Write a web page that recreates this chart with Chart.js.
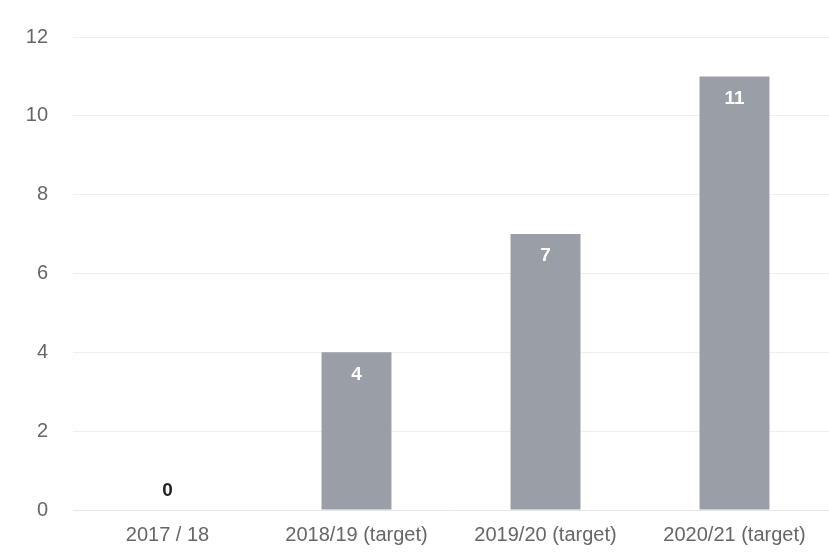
<!DOCTYPE html>
<html>
<head>
<meta charset="utf-8">
<script src="https://cdn.jsdelivr.net/npm/chart.js@4/dist/chart.umd.min.js"></script>
<style>
  html, body { margin: 0; padding: 0; background: #fff; }
  #wrap { width: 829px; height: 556px; }
</style>
</head>
<body>
<div id="wrap"><canvas id="barChart" width="829" height="556"></canvas></div>
<script>
const years = ['2017 / 18', '2018/19 (target)', '2019/20 (target)', '2020/21 (target)'];
const counts = [0, 4, 7, 11];
const yTicks = [0, 2, 4, 6, 8, 10, 12];

const fontFamily = '"Liberation Sans", Arial, sans-serif';

// value labels: white inside the bar, dark above the baseline when the bar is empty
const valueLabels = {
  id: 'valueLabels',
  afterDatasetsDraw(chart) {
    const ctx = chart.ctx;
    const meta = chart.getDatasetMeta(0);
    ctx.save();
    ctx.font = 'bold 19px ' + fontFamily;
    ctx.textAlign = 'center';
    ctx.textBaseline = 'middle';
    meta.data.forEach((bar, i) => {
      const v = counts[i];
      if (v === 0) {
        ctx.fillStyle = '#222';
        ctx.fillText(String(v), bar.x, bar.y - 19);
      } else {
        ctx.fillStyle = '#ffffff';
        ctx.fillText(String(v), bar.x, bar.y + 22);
      }
    });
    ctx.restore();
  }
};

const ctx = document.getElementById('barChart').getContext('2d');
new Chart(ctx, {
  type: 'bar',
  data: {
    labels: years,
    datasets: [{
      data: counts,
      backgroundColor: '#9a9ea6',
      borderWidth: 0,
      barPercentage: 0.74,
      categoryPercentage: 0.5
    }]
  },
  options: {
    responsive: false,
    animation: false,
    layout: { padding: { top: 21, right: 0, bottom: 0, left: 0 } },
    plugins: {
      legend: { display: false },
      tooltip: { enabled: false }
    },
    scales: {
      x: {
        grid: { display: false },
        border: { color: '#e8e8e8' },
        ticks: {
          color: '#666',
          padding: 5,
          font: { family: fontFamily, size: 20 }
        },
        afterFit(axis) { axis.height = 46; }
      },
      y: {
        min: 0,
        max: 12,
        afterBuildTicks(axis) { axis.ticks = yTicks.map(v => ({ value: v })); },
        grid: { color: '#efefef', drawTicks: false },
        border: { display: false },
        ticks: {
          color: '#666',
          padding: 25,
          font: { family: fontFamily, size: 20 }
        },
        afterFit(axis) { axis.width = 73; }
      }
    }
  },
  plugins: [valueLabels]
});
</script>
</body>
</html>
